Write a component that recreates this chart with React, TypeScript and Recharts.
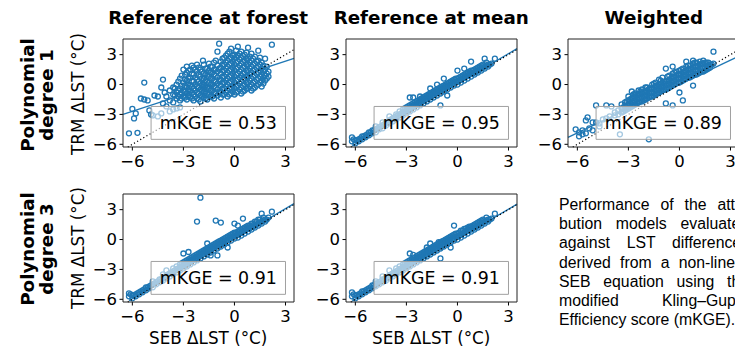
import React from 'react';
import { ScatterChart, Scatter, XAxis, YAxis, ReferenceLine, ReferenceArea } from 'recharts';

type Col = [number, number[]];

const colTitles = ['Reference at forest', 'Reference at mean', 'Weighted'];
const rowTitles = [['Polynomial', 'degree 1'], ['Polynomial', 'degree 3']];
const yAxisTitle = 'TRM ΔLST (°C)';
const xAxisTitle = 'SEB ΔLST (°C)';
const xTicks = [-6, -3, 0, 3];
const yTicks = [-6, -3, 0, 3];
const xDomain: [number, number] = [-6.55, 3.5];
const yDomain: [number, number] = [-6.27, 4.57];
const scoreBox = { x1: -4.9, x2: 3.0, y1: -5.5, y2: -2.2 };
const scores = ['0.53', '0.95', '0.89', '0.91', '0.91'];

// SEB x value : TRM y values
const poly1Forest: Col[] = [
  [-6.2, [-4.9]], [-6.0, [-2.45]], [-5.9, [-3.4]], [-5.8, [-2.9]], [-5.7, [-4.85]],
  [-5.5, [-1.4]], [-5.3, [-1.5, 0.2]], [-5.1, [-1.6]], [-5.0, [-2.6]], [-4.9, [-3.0]],
  [-4.8, [-3.1]], [-4.7, [-1.1]], [-4.5, [-1.2, -3.2]], [-4.3, [-0.3, -2.9]],
  [-4.2, [0.5, -1.9]], [-4.1, [-0.8]], [-4.0, [-1.2, -2.2]], [-3.8, [-1.6, -0.6, -2.7]],
  [-3.6, [-1.0, -0.3, -1.8, -2.5]], [-3.4, [-1.4, -0.8, 0.0, -2.4]],
  [-3.2, [-1.6, -1.0, -0.4, 0.6, -2.3]], [-3.0, [-1.2, -0.6, 0.2, 1.5]],
  [-2.8, [-1.5, -0.9, -0.3, 0.4, 1.2, 1.8]], [-2.6, [-1.3, -0.7, -0.1, 0.7, 1.5]],
  [-2.4, [-1.6, -1.0, -0.4, 0.3, 1.0, 1.7]], [-2.2, [-1.4, -0.8, -0.2, 0.5, 1.3, 2.0]],
  [-2.0, [-1.7, -1.1, -0.5, 0.1, 0.8, 1.5]], [-1.85, [2.4, -0.2]],
  [-1.8, [-1.3, -0.7, 0.0, 0.6, 1.1, 2.0]], [-1.6, [-1.5, -0.9, -0.3, 0.3, 0.9, 1.6]],
  [-1.4, [-1.2, -0.6, 0.0, 0.6, 1.2, 1.8]], [-1.2, [-1.4, -0.8, -0.2, 0.4, 1.0, 1.5, 2.2]],
  [-1.0, [-1.1, -0.5, 0.1, 0.7, 1.3, 1.9, 3.3]], [-0.9, [4.1, -0.8, 0.4, 1.6]],
  [-0.8, [-1.3, -0.7, -0.1, 0.5, 1.1, 1.7, 2.3]], [-0.6, [-1.0, -0.4, 0.2, 0.8, 1.4, 2.0, 2.7]],
  [-0.4, [-1.2, -0.6, 0.0, 0.6, 1.2, 1.8, 2.4, 3.1]], [-0.2, [-0.9, -0.3, 0.3, 0.9, 1.5, 2.1, 2.7, 3.6]],
  [0.0, [-1.0, -0.4, 0.2, 0.8, 1.4, 2.0, 2.6, 3.0]], [0.2, [-0.7, -0.1, 0.5, 1.1, 1.7, 2.3, 2.9, 3.8]],
  [0.4, [-0.9, -0.3, 0.3, 0.9, 1.5, 2.1, 2.7, 3.3]], [0.6, [-0.6, 0.0, 0.6, 1.2, 1.8, 2.4, 3.0]],
  [0.8, [-0.4, 0.2, 0.8, 1.4, 2.0, 2.6, 3.7]], [1.0, [-0.6, 0.0, 0.6, 1.2, 1.8, 2.4, 3.1]],
  [1.2, [-0.3, 0.3, 0.9, 1.5, 2.1, 2.8]], [1.4, [0.0, 0.6, 1.2, 1.8, 2.4, 3.4]],
  [1.6, [-0.2, 0.4, 1.0, 1.6, 2.2]], [1.8, [0.4, 0.9, 1.5, 2.6]], [2.0, [0.8, 1.3]], [2.2, [4.0]],
  [-3.5, [-1.1, -0.4]], [-3.3, [-1.2, -0.6, 0.3]], [-3.1, [-1.4, -0.8, -0.1, 0.9]],
  [-2.9, [-1.3, -0.7, -0.1, 0.5, 1.0]], [-2.7, [-1.2, -0.6, 0.0, 0.6, 1.4]],
  [-2.5, [-1.4, -0.8, -0.2, 0.4, 1.1, 1.9]], [-2.3, [-1.2, -0.6, 0.0, 0.7, 1.5]],
  [-2.1, [-1.5, -0.9, -0.3, 0.3, 1.0, 1.7]], [-1.9, [-1.2, -0.6, 0.0, 0.6, 1.3]],
  [-1.7, [-1.4, -0.8, -0.2, 0.4, 1.0, 1.6]], [-1.5, [-1.0, -0.4, 0.2, 0.8, 1.4, 2.1]],
  [-1.3, [-1.2, -0.6, 0.0, 0.6, 1.2, 1.8]], [-1.1, [-0.9, -0.3, 0.3, 0.9, 1.5, 2.4]],
  [-0.7, [-1.0, -0.4, 0.2, 0.8, 1.4, 2.0, 2.6]], [-0.5, [-0.8, -0.2, 0.4, 1.0, 1.6, 2.2, 2.9]],
  [-0.3, [-1.0, -0.4, 0.2, 0.8, 1.4, 2.0, 2.6, 3.3]], [-0.1, [-0.7, -0.1, 0.5, 1.1, 1.7, 2.3, 2.9]],
  [0.1, [-0.8, -0.2, 0.4, 1.0, 1.6, 2.2, 2.8, 3.4]], [0.3, [-0.5, 0.1, 0.7, 1.3, 1.9, 2.5, 3.1]],
  [0.5, [-0.7, -0.1, 0.5, 1.1, 1.7, 2.3, 2.9]], [0.7, [-0.4, 0.2, 0.8, 1.4, 2.0, 2.6, 3.2]],
  [0.9, [-0.2, 0.4, 1.0, 1.6, 2.2, 2.8]], [1.1, [-0.4, 0.2, 0.8, 1.4, 2.0, 2.6]],
  [1.3, [-0.1, 0.5, 1.1, 1.7, 2.3]], [1.5, [0.2, 0.8, 1.4, 2.0, 2.7]],
  [1.7, [0.1, 0.7, 1.3, 1.9]], [1.9, [0.6, 1.1, 1.8]],
];

const poly1Mean: Col[] = [
  [-6.2, [-5.3, -5.7]], [-6.0, [-5.6, -5.9]], [-5.8, [-5.5, -5.7]], [-5.6, [-5.2, -5.5]],
  [-5.4, [-5.1, -5.3]], [-5.2, [-4.8, -5.1]], [-5.0, [-4.9, -4.6]], [-4.8, [-4.5, -4.8, -4.2]],
  [-4.6, [-4.3, -4.5]], [-4.4, [-4.1, -4.4, -3.8]], [-4.2, [-3.8, -4.1]], [-4.0, [-3.6, -3.9, -3.2]],
  [-3.8, [-3.4, -3.7]], [-3.6, [-3.2, -3.5, -3.0]], [-3.4, [-3.0, -3.3, -2.7]], [-3.2, [-2.8, -3.1, -2.5]],
  [-3.0, [-2.6, -2.9, -2.3]], [-2.8, [-2.4, -2.7, -1.3, -2.1]], [-2.6, [-2.2, -2.5, -1.3, -1.9]],
  [-2.4, [-2.0, -2.3, -1.7]], [-2.2, [-1.8, -2.1, -1.5, -1.2]], [-2.0, [-1.6, -1.9, -1.3]],
  [-1.8, [-1.4, -1.7, -1.1]], [-1.6, [-1.2, -1.5, -0.4, -0.9]], [-1.4, [-1.0, -1.3, -0.7]],
  [-1.2, [-0.8, -1.1, 0.0, -0.5]], [-1.0, [-0.6, -0.9, -2.1, -0.3]], [-0.8, [-0.4, -0.7, 0.6, -0.1]],
  [-0.6, [-0.2, -0.5, -1.1, 0.1]], [-0.4, [0.0, -0.3, 0.3]], [-0.2, [0.2, -0.1, 0.5]],
  [0.0, [0.3, 0.0, 1.4, 0.6]], [0.2, [0.5, 0.2, 0.8]], [0.4, [0.7, 0.4, 1.6, 1.0]],
  [0.6, [0.9, 0.6, 1.2]], [0.8, [1.1, 0.8, 2.3, 1.4]], [1.0, [1.2, 1.0, 1.5]], [1.2, [1.4, 1.2, 1.7]],
  [1.4, [1.6, 1.4, 1.9]], [1.6, [1.8, 1.6, 2.6]], [1.8, [2.0, 1.8]], [2.0, [2.1]], [2.2, [2.6]],
];

const poly1Weighted: Col[] = [
  [-6.1, [-4.5]], [-5.9, [-4.8, -5.2]], [-5.7, [-5.0, -4.6]], [-5.5, [-3.6, -4.9]], [-5.4, [-3.3]],
  [-5.3, [-4.4]], [-5.1, [-3.8, -4.6]], [-4.9, [-2.1, -3.8]], [-4.7, [-3.9, -4.2]], [-4.5, [-3.5]],
  [-4.3, [-2.1, -3.4]], [-4.1, [-3.2]], [-4.0, [-2.2]], [-3.8, [-2.8, -3.1]], [-3.6, [-2.6, -3.0]],
  [-3.5, [-5.0]], [-3.4, [-2.4, -2.8, -2.0]], [-3.2, [-2.2, -2.6, -1.8]], [-3.0, [-2.0, -1.6, -2.4, -1.2]],
  [-2.8, [-1.8, -1.4, -2.2, -0.7]], [-2.6, [-1.6, -1.2, -2.0, -0.9]], [-2.4, [-1.4, -1.0, -1.8, -0.6]],
  [-2.2, [-1.3, -0.9, -1.7, -0.5]], [-2.0, [-1.1, -0.7, -1.5, -0.3]], [-1.8, [-0.9, -0.5, -1.3, -5.5]],
  [-1.6, [-0.8, -0.4, -1.2, 0.0]], [-1.4, [-0.6, -0.2, -1.0, 0.2]], [-1.2, [-0.4, 0.0, -0.8, 0.5]],
  [-1.0, [-0.2, 0.2, -0.6, 0.7]], [-0.8, [-0.1, 0.3, -0.5, 1.6, -1.9]], [-0.6, [0.1, 0.5, -0.3, 0.9]],
  [-0.4, [0.3, 0.7, -0.1, 1.1, 1.8, -2.1]], [-0.2, [0.5, 0.9, 0.1, 1.3]], [0.0, [0.6, 1.0, 0.2, 1.4, -0.8]],
  [0.2, [0.8, 1.2, 0.4, 1.6, -1.6]], [0.4, [1.0, 1.4, 0.6, 1.8, 2.3]], [0.6, [1.1, 1.5, 0.7, 1.9]],
  [0.8, [1.3, 1.7, 0.9, 2.1, 2.4, -0.1]], [1.0, [1.4, 1.8, 1.0, 2.2]], [1.2, [1.6, 2.0, 1.2, 2.3]],
  [1.4, [1.7, 2.1, 1.3, 2.4]], [1.6, [1.9, 2.2, 1.5]], [1.8, [2.0, 1.7]], [2.0, [3.3, 2.1]],
  [-3.3, [-2.3, -2.7]], [-3.1, [-2.1, -1.7, -2.5]], [-2.9, [-1.9, -1.5, -2.3]],
  [-2.7, [-1.7, -1.3, -2.1, -1.0]], [-2.5, [-1.5, -1.1, -1.9]], [-2.3, [-1.3, -0.9, -1.7, -0.7]],
  [-2.1, [-1.2, -0.8, -1.6]], [-1.9, [-1.0, -0.6, -1.4, -0.3]], [-1.7, [-0.8, -0.4, -1.2]],
  [-1.5, [-0.7, -0.3, -1.1, 0.1]], [-1.3, [-0.5, -0.1, -0.9]], [-1.1, [-0.3, 0.1, -0.7, 0.4]],
  [-0.9, [-0.1, 0.3, -0.5]], [-0.7, [0.0, 0.4, -0.4, 0.8]], [-0.5, [0.2, 0.6, -0.2]],
  [-0.3, [0.4, 0.8, 0.0, 1.2]], [-0.1, [0.6, 1.0, 0.2]], [0.1, [0.7, 1.1, 0.3, 1.5]],
  [0.3, [0.9, 1.3, 0.5]], [0.5, [1.1, 1.5, 0.7, 1.9]], [0.7, [1.2, 1.6, 0.8]],
  [0.9, [1.4, 1.8, 1.0, 2.2]], [1.1, [1.5, 1.9, 1.1]], [1.3, [1.7, 2.1, 1.3]],
  [1.5, [1.8, 2.2, 1.4]], [1.7, [1.9, 1.6, 2.2]], [1.9, [2.0]],
];

const poly3Forest: Col[] = [
  [-6.2, [-5.4, -5.7]], [-6.0, [-5.6, -5.9]], [-5.8, [-5.5, -5.7]], [-5.6, [-5.3, -5.5]],
  [-5.4, [-5.1, -5.3]], [-5.2, [-4.8, -5.1]], [-5.0, [-4.7, -4.9]], [-4.8, [-4.5, -4.8, -4.2]],
  [-4.6, [-4.3, -4.5]], [-4.4, [-4.0, -4.3]], [-4.2, [-3.8, -4.1, -3.5]], [-4.0, [-3.6, -3.9, -3.1]],
  [-3.8, [-3.4, -3.7]], [-3.6, [-3.2, -3.5, -2.9]], [-3.4, [-3.0, -3.3, -2.7]], [-3.2, [-2.8, -3.1, -2.5]],
  [-3.0, [-2.6, -2.9, -2.3, -1.4]], [-2.8, [-2.4, -2.7, -2.1]], [-2.7, [-1.25]], [-2.6, [-2.2, -2.5, -1.9]],
  [-2.4, [-2.0, -2.3, -1.7]], [-2.2, [-1.8, -2.1, -1.5, 1.8]], [-2.0, [-1.6, -1.9, -1.3, 4.2]],
  [-1.8, [-1.4, -1.7, -1.1]], [-1.6, [-1.2, -1.5, -0.4, -0.9]], [-1.4, [-1.0, -1.3, -0.7, -1.6]],
  [-1.2, [-0.8, -1.1, -0.5]], [-1.1, [1.9]], [-1.0, [-0.6, -0.9, -1.6, -0.3]], [-0.8, [-0.4, -0.7, 1.7, -0.1]],
  [-0.6, [-0.2, -0.5, 0.1]], [-0.4, [0.0, -0.3, 0.3, -0.8]], [-0.2, [0.2, -0.1, 0.5]],
  [0.0, [0.4, 0.1, 1.6, 0.7]], [0.2, [0.5, 0.2, 1.4, 0.8]], [0.4, [0.7, 0.4, 1.0]], [0.5, [2.1]],
  [0.6, [0.9, 0.6, 1.2]], [0.8, [1.1, 0.8, 1.4]], [1.0, [1.3, 1.0, 1.6]], [1.2, [1.4, 1.2, 1.8]],
  [1.4, [1.6, 1.4, 2.0]], [1.6, [1.8, 1.6, 2.6]], [1.8, [2.0, 1.8]], [2.0, [2.2]], [2.2, [2.8]],
];

const poly3Mean: Col[] = [
  [-6.2, [-5.3, -5.7]], [-6.0, [-5.6, -5.9]], [-5.8, [-5.5, -5.7]], [-5.6, [-5.2, -5.5]],
  [-5.4, [-5.1, -5.3]], [-5.2, [-4.9, -5.1]], [-5.0, [-4.6, -4.9]], [-4.8, [-4.4, -4.7, -4.2]],
  [-4.6, [-4.3, -4.5]], [-4.4, [-4.0, -4.3, -3.7]], [-4.2, [-3.8, -4.1]], [-4.0, [-3.6, -3.9, -3.1]],
  [-3.8, [-3.4, -3.7]], [-3.6, [-3.2, -3.5, -2.9]], [-3.4, [-3.0, -3.3, -2.7]], [-3.2, [-2.8, -3.1, -2.5]],
  [-3.0, [-2.6, -2.9, -2.3]], [-2.8, [-2.4, -2.7, -1.4, -2.1]], [-2.6, [-2.2, -2.5, -1.55, -1.9]],
  [-2.4, [-2.0, -2.3, -1.7]], [-2.2, [-1.8, -2.1, -1.5]], [-2.0, [-1.6, -1.9, -1.3]],
  [-1.8, [-1.4, -1.7, -0.8, -1.1]], [-1.6, [-1.2, -1.5, -0.4, -0.9]], [-1.4, [-1.0, -1.3, -0.7]],
  [-1.2, [-0.8, -1.1, -0.5]], [-1.1, [-0.27]], [-1.0, [-0.6, -0.9, -1.9, -0.3]], [-0.8, [-0.4, -0.7, -0.1]],
  [-0.6, [-0.2, -0.5, 0.1]], [-0.5, [0.0]], [-0.4, [0.0, -0.3, -0.8, 0.3]], [-0.2, [0.2, -0.1, 1.4, 0.5]],
  [0.0, [0.3, 0.0, 0.6]], [0.2, [0.5, 0.2, 0.9]], [0.4, [0.7, 0.4, 1.07]], [0.6, [0.9, 0.6, 1.2]],
  [0.8, [1.0, 0.8, 1.3]], [1.0, [1.2, 1.0, 1.5]], [1.2, [1.4, 1.2, 1.7]], [1.4, [1.6, 1.4, 1.9]],
  [1.6, [1.8, 1.6]], [1.8, [2.0, 1.8]], [2.0, [2.1]], [2.2, [2.6]],
];

// dense core of the near 1:1 band, shared by the mean-reference and degree-3 panels
const bandCore: Col[] = [
  [-6.1, [-5.5]], [-5.9, [-5.6]], [-5.7, [-5.4]], [-5.5, [-5.2]], [-5.3, [-5.0]], [-5.1, [-4.8]],
  [-4.9, [-4.6]], [-4.7, [-4.4]], [-4.5, [-4.2]], [-4.3, [-4.0]], [-4.1, [-3.8]], [-3.9, [-3.5]],
  [-3.7, [-3.3]], [-3.5, [-3.1]], [-3.3, [-2.9]], [-3.1, [-2.7, -2.4]], [-2.9, [-2.5, -2.2]],
  [-2.7, [-2.3, -2.0]], [-2.5, [-2.1, -1.8]], [-2.3, [-1.9, -1.6]], [-2.1, [-1.7, -1.4]],
  [-1.9, [-1.5, -1.2]], [-1.7, [-1.3, -1.0]], [-1.5, [-1.1, -0.8]], [-1.3, [-0.9, -0.6]],
  [-1.1, [-0.7, -0.4]], [-0.9, [-0.5, -0.2]], [-0.7, [-0.3, 0.0]], [-0.5, [-0.1, 0.2]],
  [-0.3, [0.1, 0.4]], [-0.1, [0.3, 0.6]], [0.1, [0.4, 0.7]], [0.3, [0.6, 0.9]], [0.5, [0.8, 1.1]],
  [0.7, [1.0, 1.3]], [0.9, [1.1, 1.4]], [1.1, [1.3, 1.6]], [1.3, [1.5, 1.8]], [1.5, [1.7, 2.0]],
  [1.7, [1.9, 2.2]], [1.9, [2.0]],
];

// fitted regression line end points [x, y]
const fitPoly1Forest = [[-6.55, -3.0], [3.5, 2.62]];
const fitPoly1Mean = [[-6.2, -6.2], [3.5, 3.6]];
const fitPoly1Weighted = [[-6.55, -5.3], [3.5, 2.86]];
const fitPoly3Forest = [[-6.2, -6.15], [3.5, 3.6]];
const fitPoly3Mean = [[-6.2, -6.2], [3.5, 3.55]];
const oneToOne = [[-6.27, -6.27], [3.5, 3.5]];

const captionLines = [
  'Performance of the attri-',
  'bution models evaluated',
  'against LST differences',
  'derived from a non-linear',
  'SEB equation using the',
  'modified Kling–Gupta',
  'Efficiency score (mKGE).',
];

const BLUE = '#1f77b4';
const FONT = '"DejaVu Sans", sans-serif';
const fmt = (v: number) => (v < 0 ? '\u2212' + Math.abs(v) : String(v));

const PLOT_W = 171;
const PLOT_H = 108;
const Y_AXIS_W = 60;
const M_TOP = 10;
const M_RIGHT = 10;
const X_AXIS_H = 32;

function Panel({ cols, fit, score, left, top }: { cols: Col[]; fit: number[][]; score: string; left: number; top: number }) {
  const data = cols.flatMap(([x, ys]) => ys.map((y) => ({ x, y })));
  const tickStyle = { fontSize: 16.5, fill: '#000', fontFamily: FONT };
  return (
    <div style={{ position: 'absolute', left: left - Y_AXIS_W, top: top - M_TOP }}>
      <ScatterChart
        width={Y_AXIS_W + PLOT_W + M_RIGHT}
        height={M_TOP + PLOT_H + X_AXIS_H}
        margin={{ top: M_TOP, right: M_RIGHT, left: 0, bottom: 0 }}
      >
        <XAxis
          type="number"
          dataKey="x"
          domain={xDomain}
          ticks={xTicks}
          allowDataOverflow
          interval={0}
          height={X_AXIS_H}
          tickSize={3.5}
          tickMargin={5}
          tick={tickStyle}
          tickFormatter={fmt}
          axisLine={false}
          tickLine={{ stroke: '#000', strokeWidth: 1 }}
        />
        <YAxis
          type="number"
          dataKey="y"
          domain={yDomain}
          ticks={yTicks}
          allowDataOverflow
          interval={0}
          width={Y_AXIS_W}
          tickSize={3.5}
          tickMargin={2.5}
          tick={tickStyle}
          tickFormatter={fmt}
          axisLine={false}
          tickLine={{ stroke: '#000', strokeWidth: 1 }}
        />
        <Scatter
          data={data}
          isAnimationActive={false}
          shape={(p: any) => (
            <circle cx={p.cx} cy={p.cy} r={2.5} fill="none" stroke={BLUE} strokeWidth={1.3} />
          )}
        />
        <ReferenceLine
          segment={[{ x: fit[0][0], y: fit[0][1] }, { x: fit[1][0], y: fit[1][1] }]}
          stroke={BLUE}
          strokeWidth={1.3}
          ifOverflow="visible"
          zIndex={650}
        />
        <ReferenceLine
          segment={[{ x: oneToOne[0][0], y: oneToOne[0][1] }, { x: oneToOne[1][0], y: oneToOne[1][1] }]}
          stroke="#000"
          strokeWidth={1.2}
          strokeDasharray="1.2 2.4"
          ifOverflow="visible"
          zIndex={660}
        />
        <ReferenceArea
          x1={scoreBox.x1}
          x2={scoreBox.x2}
          y1={scoreBox.y1}
          y2={scoreBox.y2}
          fill="#ffffff"
          fillOpacity={0.6}
          stroke="#a0a0a0"
          strokeWidth={1}
          strokeOpacity={1}
          ifOverflow="visible"
          zIndex={700}
          label={{ value: `mKGE = ${score}`, position: 'center', fontSize: 17.4, fill: '#000', fontFamily: FONT }}
        />
        <ReferenceArea
          x1={xDomain[0]}
          x2={xDomain[1]}
          y1={yDomain[0]}
          y2={yDomain[1]}
          fill="none"
          stroke="#222"
          strokeWidth={1}
          strokeOpacity={1}
          ifOverflow="visible"
          zIndex={710}
        />
      </ScatterChart>
    </div>
  );
}

const colLefts = [122.7, 345.7, 568.3];
const rowTops = [39.3, 194];

export default function App() {
  const panels = [
    { cols: poly1Forest, fit: fitPoly1Forest, score: scores[0], r: 0, c: 0 },
    { cols: [...poly1Mean, ...bandCore], fit: fitPoly1Mean, score: scores[1], r: 0, c: 1 },
    { cols: poly1Weighted, fit: fitPoly1Weighted, score: scores[2], r: 0, c: 2 },
    { cols: [...poly3Forest, ...bandCore], fit: fitPoly3Forest, score: scores[3], r: 1, c: 0 },
    { cols: [...poly3Mean, ...bandCore], fit: fitPoly3Mean, score: scores[4], r: 1, c: 1 },
  ];
  const rowCenters = [94, 248];
  return (
    <div
      style={{
        position: 'absolute',
        left: 0,
        top: 0,
        width: 735,
        height: 347,
        overflow: 'hidden',
        background: '#fff',
        fontFamily: FONT,
      }}
    >
      {panels.map((p, i) => (
        <Panel key={i} cols={p.cols} fit={p.fit} score={p.score} left={colLefts[p.c]} top={rowTops[p.r]} />
      ))}
      <svg width={735} height={347} style={{ position: 'absolute', left: 0, top: 0, pointerEvents: 'none' }}>
        {colTitles.map((t, i) => (
          <text key={t} x={colLefts[i] + PLOT_W / 2} y={24} textAnchor="middle" fontSize={18.3} fontWeight="bold" fontFamily={FONT} fill="#000">
            {t}
          </text>
        ))}
        {rowTitles.map((lines, r) => (
          <g key={r}>
            {lines.map((l, j) => (
              <text
                key={l}
                transform={`translate(${33.5 + j * 19} ${rowCenters[r] + 1}) rotate(-90)`}
                textAnchor="middle"
                fontSize={18.3}
                fontWeight="bold"
                fontFamily={FONT}
                fill="#000"
              >
                {l}
              </text>
            ))}
            <text transform={`translate(84 ${rowCenters[r]}) rotate(-90)`} textAnchor="middle" fontSize={16.8} fontFamily={FONT} fill="#000">
              {yAxisTitle}
            </text>
          </g>
        ))}
        {[0, 1].map((c) => (
          <text key={c} x={colLefts[c] + PLOT_W / 2} y={344} textAnchor="middle" fontSize={16.8} fontFamily={FONT} fill="#000">
            {xAxisTitle}
          </text>
        ))}
      </svg>
      <div
        style={{
          position: 'absolute',
          left: 559,
          top: 195,
          width: 190,
          fontFamily: '"Liberation Sans", Arial, sans-serif',
          fontSize: 15.8,
          lineHeight: '19.2px',
          color: '#000',
        }}
      >
        {captionLines.map((l, i) => (
          <div
            key={i}
            style={{
              textAlign: i === captionLines.length - 1 ? 'left' : 'justify',
              textAlignLast: i === captionLines.length - 1 ? 'left' : 'justify',
              whiteSpace: 'nowrap',
            } as React.CSSProperties}
          >
            {l}
          </div>
        ))}
      </div>
    </div>
  );
}
